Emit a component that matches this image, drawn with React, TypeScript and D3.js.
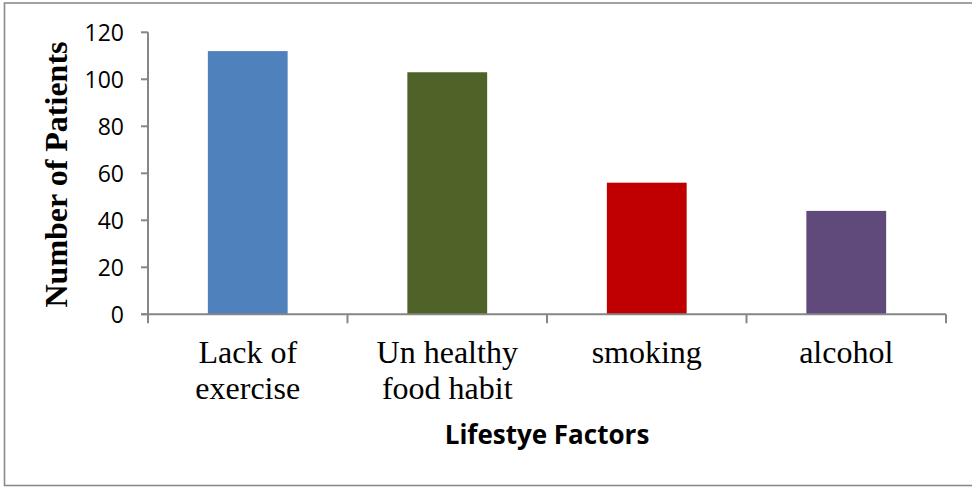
import React from "react";
import * as d3 from "d3";

// Lifestyle factors and the number of patients reporting each
const categories: string[] = ["Lack of exercise", "Un healthy food habit", "smoking", "alcohol"];
const labelLines: string[][] = [["Lack of", "exercise"], ["Un healthy", "food habit"], ["smoking"], ["alcohol"]];
const patients: number[] = [112, 103, 56, 44];
const barColors: string[] = ["#4F81BD", "#4F6228", "#C00000", "#604A7B"];
const yTicks: number[] = [0, 20, 40, 60, 80, 100, 120];

const W = 972;
const H = 487;
const plot = { left: 148, right: 946, top: 32.3, bottom: 314.3 };
const axisColor = "#868686";

export default function App() {
  const x = d3
    .scaleBand<string>()
    .domain(categories)
    .range([plot.left, plot.right])
    .paddingInner(0.6)
    .paddingOuter(0.3);
  const y = d3.scaleLinear().domain([0, 120]).range([plot.bottom, plot.top]);
  const step = x.step();
  const boundaries = d3.range(categories.length + 1).map((i) => plot.left + i * step);

  return (
    <svg
      width={W}
      height={H}
      viewBox={`0 0 ${W} ${H}`}
      style={{ position: "absolute", left: 0, top: 0, background: "#fff" }}
    >
      {/* chart frame */}
      <rect x={4.5} y={3} width={990} height={482.5} fill="#fff" stroke="#8a8a8a" strokeWidth={1.6} />

      {/* bars */}
      {categories.map((c, i) => (
        <rect
          key={c}
          x={x(c)}
          y={y(patients[i])}
          width={x.bandwidth()}
          height={y(0) - y(patients[i])}
          fill={barColors[i]}
        />
      ))}

      {/* y axis */}
      <line x1={plot.left} x2={plot.left} y1={y(120)} y2={y(0)} stroke={axisColor} strokeWidth={2} />
      {yTicks.map((t) => (
        <g key={t}>
          <line x1={plot.left - 7} x2={plot.left} y1={y(t)} y2={y(t)} stroke={axisColor} strokeWidth={2} />
          <text
            x={124}
            y={y(t)}
            dy="0.36em"
            textAnchor="end"
            fontFamily="'Open Sans', sans-serif"
            fontSize={23}
            fill="#000"
          >
            {t}
          </text>
        </g>
      ))}

      {/* x axis */}
      <line x1={plot.left - 7} x2={plot.right} y1={y(0)} y2={y(0)} stroke={axisColor} strokeWidth={2} />
      {boundaries.map((bx, i) => (
        <line key={i} x1={bx} x2={bx} y1={y(0)} y2={y(0) + 9} stroke={axisColor} strokeWidth={2} />
      ))}

      {/* category labels */}
      {categories.map((c, i) => (
        <text
          key={c}
          x={(x(c) as number) + x.bandwidth() / 2}
          y={363}
          textAnchor="middle"
          fontFamily="'Liberation Serif', 'Times New Roman', serif"
          fontSize={32}
          fill="#000"
        >
          {labelLines[i].map((ln, j) => (
            <tspan key={j} x={(x(c) as number) + x.bandwidth() / 2} dy={j === 0 ? 0 : 36}>
              {ln}
            </tspan>
          ))}
        </text>
      ))}

      {/* axis titles */}
      <text
        x={(plot.left + plot.right) / 2}
        y={444}
        textAnchor="middle"
        fontFamily="'Open Sans', sans-serif"
        fontWeight="bold"
        fontSize={26}
        fill="#000"
      >
        Lifestye Factors
      </text>
      <text
        transform={`translate(67, 174.5) rotate(-90)`}
        textAnchor="middle"
        fontFamily="'Liberation Serif', 'Times New Roman', serif"
        fontWeight="bold"
        fontSize={32}
        fill="#000"
      >
        Number of Patients
      </text>
    </svg>
  );
}
